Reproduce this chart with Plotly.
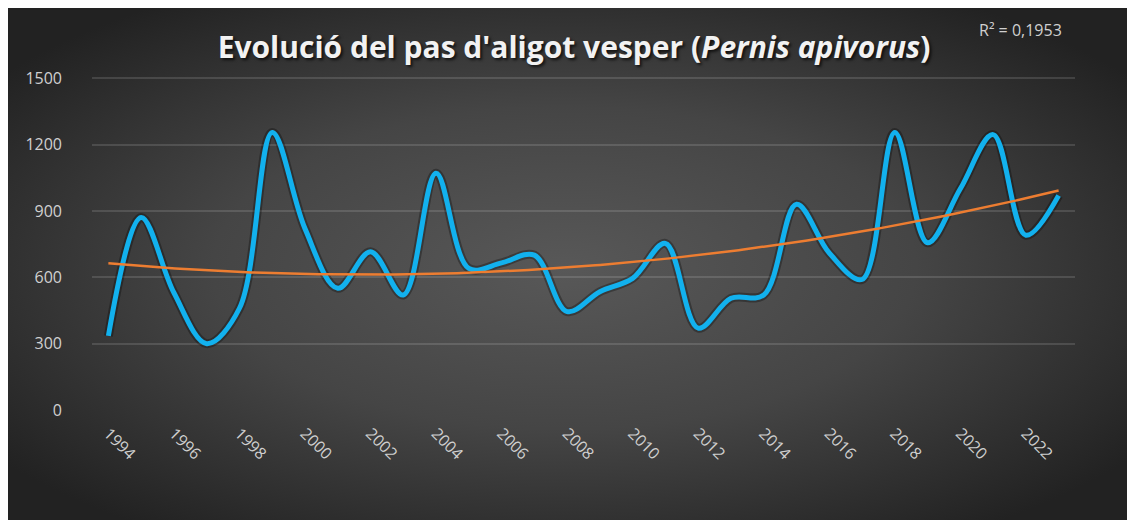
import base64
import numpy as np
import plotly.graph_objects as go

# passos anuals d'aligot vesper (llegits del gràfic)
years = list(range(1994, 2024))
counts = [335, 870, 530, 300, 460, 1255, 820, 550, 715, 520,
          1070, 640, 665, 700, 445, 535, 595, 753, 370, 505,
          520, 930, 710, 590, 1255, 756, 1000, 1245, 790, 970]
y_ticks = [0, 300, 600, 900, 1200, 1500]
x_ticks = years[::2]
r2_label = "R² = 0,1953"
title = "Evolució del pas d'aligot vesper (<i>Pernis apivorus</i>)"

# polynomial trendline, order 2 (like the Excel one)
coef = np.polyfit(years, counts, 2)
trend_x = np.linspace(years[0], years[-1], 200)
trend_y = np.polyval(coef, trend_x)

W, H = 1135, 520
L, R, T, B = 84, 68, 68, 118
pw, ph = W - L - R, H - T - B

svg = """<svg xmlns='http://www.w3.org/2000/svg' width='1135' height='520' preserveAspectRatio='none'>
<defs><radialGradient id='g' cx='49%' cy='50%' r='62%'>
<stop offset='0' stop-color='#585858'/><stop offset='0.5' stop-color='#454545'/>
<stop offset='1' stop-color='#222222'/></radialGradient></defs>
<rect width='1135' height='520' fill='url(#g)'/></svg>"""
bg = "data:image/svg+xml;base64," + base64.b64encode(svg.encode()).decode()

fig = go.Figure()
fig.add_trace(go.Scatter(
    x=years, y=counts, mode="lines", line_shape="spline",
    line=dict(color="rgba(0,0,0,0.3)", width=9, smoothing=1),
    hoverinfo="skip", showlegend=False))
fig.add_trace(go.Scatter(
    x=years, y=counts, mode="lines", line_shape="spline",
    line=dict(color="#12B1EE", width=5, smoothing=1), showlegend=False))
fig.add_trace(go.Scatter(
    x=trend_x, y=trend_y, mode="lines",
    line=dict(color="#ED7D31", width=2.5), showlegend=False))

fig.add_layout_image(dict(
    source=bg, xref="paper", yref="paper",
    x=-L / pw, y=1 + T / ph, sizex=W / pw, sizey=H / ph,
    sizing="stretch", xanchor="left", yanchor="top", layer="below"))

fig.update_layout(
    width=W, height=H,
    margin=dict(l=L, r=R, t=T, b=B),
    paper_bgcolor="#2a2a2a", plot_bgcolor="rgba(0,0,0,0)",
    title=dict(text=title, x=0.4987, xanchor="center", y=0.925, yanchor="middle",
               font=dict(family="Open Sans", size=30, color="#f2f2f2", weight=700,
                         shadow="2px 2px 3px rgba(0,0,0,0.7)")),
    annotations=[dict(text=r2_label, xref="paper", yref="paper",
                      x=(1012 - L) / pw, y=(H - B - 22) / ph,
                      showarrow=False, xanchor="center", yanchor="middle",
                      font=dict(family="Open Sans", size=16, color="#d0d0d0"))],
    xaxis=dict(range=[1993.5, 2023.5], tickvals=x_ticks, tickangle=45,
               showgrid=False, zeroline=False, showline=False,
               ticklabelstandoff=10,
               tickfont=dict(family="Open Sans", size=16, color="#d0d0d0")),
    yaxis=dict(range=[0, 1510], tickvals=y_ticks, showgrid=True,
               gridcolor="rgba(255,255,255,0.13)", gridwidth=1.5,
               zeroline=False, showline=False, ticks="", ticklen=0,
               ticklabelstandoff=29,
               tickfont=dict(family="Open Sans", size=16, color="#d0d0d0")),
)

fig.write_html("out.html")
